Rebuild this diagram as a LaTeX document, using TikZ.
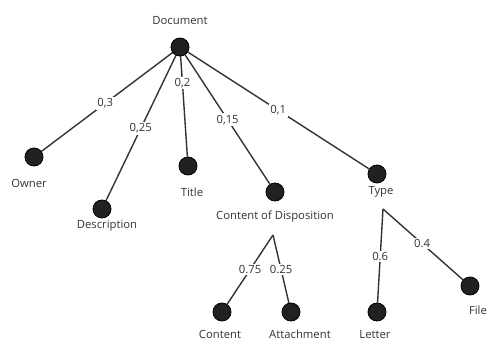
\documentclass[tikz,border=0pt]{standalone}
\usepackage{fontspec}
\setmainfont{Open Sans}
\usetikzlibrary{backgrounds}
\tikzset{
  leaf/.style={circle,draw=black,fill=black!87,line width=0.8pt,minimum size=18pt,inner sep=0pt},
  caption/.style={font=\fontsize{11.3}{13}\selectfont,text=black!80},
  weight/.style={fill=white,inner sep=1.5pt,font=\fontsize{11.3}{13}\selectfont,text=black!80},
  branch/.style={draw=black!80,line width=1.4pt}
}
\begin{document}
\begin{tikzpicture}[x=1pt,y=-1pt]
  \useasboundingbox (0,0) rectangle (488,342);
  % nodes
  \node[leaf] (doc) at (180,47) {};
  \node[leaf] (owner) at (34,157) {};
  \node[leaf] (desc) at (102,209) {};
  \node[leaf] (title) at (188,166) {};
  \node[leaf] (cod) at (275,192) {};
  \node[leaf] (type) at (377,174) {};
  \node[leaf] (content) at (222,312) {};
  \node[leaf] (attach) at (291,312) {};
  \node[leaf] (letter) at (377,312) {};
  \node[leaf] (file) at (470,286) {};
  \coordinate (cod-fork) at (273,235);
  \coordinate (type-fork) at (383,209);
  % captions
  \node[caption] at (180,21) {Document};
  \node[caption] at (29,183) {Owner};
  \node[caption] at (107,226) {Description};
  \node[caption] at (192,192) {Title};
  \node[caption] at (275,217) {Content of Disposition};
  \node[caption] at (381,192) {Type};
  \node[caption] at (220,334.5) {Content};
  \node[caption] at (300,334.5) {Attachment};
  \node[caption] at (375,334.5) {Letter};
  \node[caption] at (478,310) {File};
  % branches
  \begin{pgfonlayer}{background}
  \draw[branch] (doc.center) -- (owner) node[weight,pos=0.54] {0,3};
  \draw[branch] (doc.center) -- (desc) node[weight,pos=0.53] {0,25};
  \draw[branch] (doc.center) -- (title) node[weight,pos=0.33] {0,2};
  \draw[branch] (doc.center) -- (cod) node[weight,pos=0.53] {0,15};
  \draw[branch] (doc.center) -- (type) node[weight,pos=0.52] {0,1};
  \draw[branch] (cod-fork) -- (content) node[weight,pos=0.5] {0.75};
  \draw[branch] (cod-fork) -- (attach) node[weight,pos=0.51] {0.25};
  \draw[branch] (type-fork) -- (letter) node[weight,pos=0.51] {0.6};
  \draw[branch] (type-fork) -- (file) node[weight,pos=0.49] {0.4};
  \end{pgfonlayer}
\end{tikzpicture}
\end{document}
